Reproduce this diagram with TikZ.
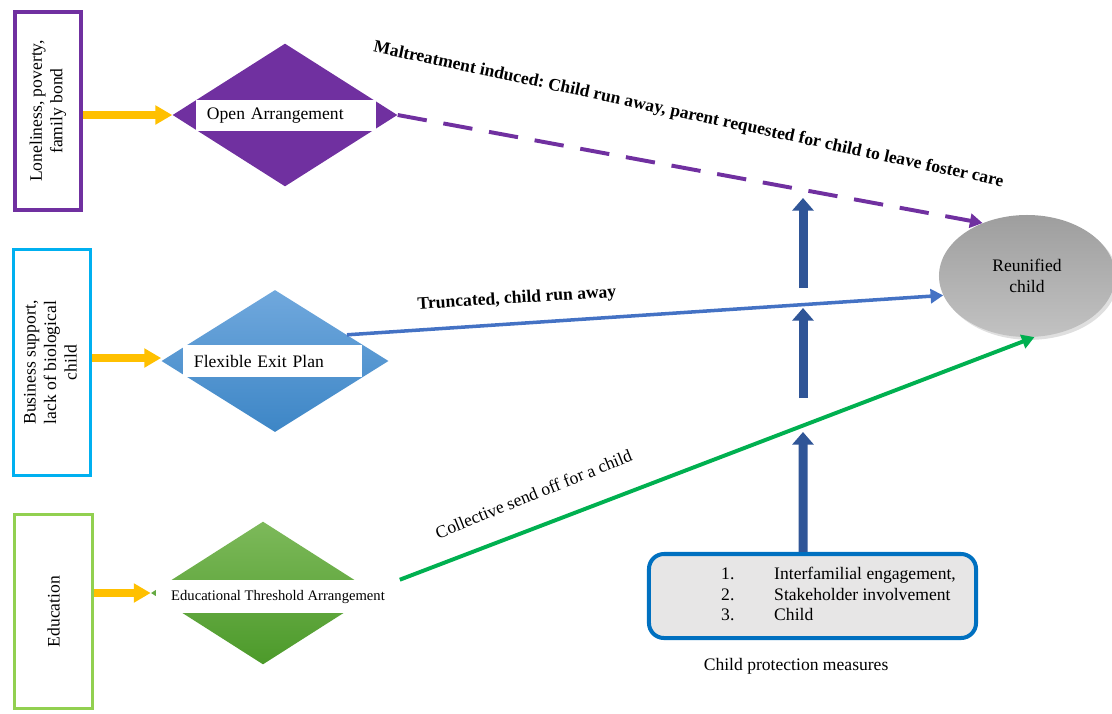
\documentclass[tikz,border=0pt]{standalone}
\usepackage{fontspec}
\setmainfont{Liberation Serif}
\usepackage{xcolor}
\definecolor{plum}{HTML}{7030A0}
\definecolor{sky}{HTML}{00B0F0}
\definecolor{leaf}{HTML}{92D050}
\definecolor{amber}{HTML}{FFC000}
\definecolor{pathblue}{HTML}{4472C4}
\definecolor{pathgreen}{HTML}{00B050}
\definecolor{navy}{HTML}{2F5597}
\definecolor{frame}{HTML}{0070C0}
\definecolor{panel}{HTML}{E7E6E6}
\definecolor{bluetop}{HTML}{70A8DD}
\definecolor{bluebot}{HTML}{3D86C6}
\definecolor{greentop}{HTML}{7DB95A}
\definecolor{greenbot}{HTML}{4C9A2A}
\definecolor{greytop}{HTML}{9E9E9E}
\definecolor{greybot}{HTML}{C2C2C2}
\usetikzlibrary{positioning,arrows.meta,shapes.geometric,shadows}
\frenchspacing

\begin{document}
\begin{tikzpicture}[
  x=0.025cm,y=-0.025cm,
  font=\fontsize{12.5}{14.6}\selectfont,
  cause/.style={draw,fill=white,inner sep=0pt,align=center},
  route/.style={diamond,inner sep=0pt,minimum width=5.62cm,minimum height=3.57cm},
  band/.style={fill=white,inner sep=0pt,inner xsep=0.275cm,align=left},
  feed/.style={-{Triangle[width=13pt,length=12pt]},line width=5pt,amber},
  exit/.style={-{Triangle[width=10pt,length=9pt]}},
  lift/.style={-{Triangle[width=15pt,length=9pt]},line width=6.4pt,navy},
  tag/.style={inner sep=1pt}
]
\useasboundingbox (0,0) rectangle (1112,713);

\node[cause,draw=plum,line width=2.85pt,minimum width=1.65cm,minimum height=4.95cm] (loneliness) at (48,111)
  {\rotatebox{90}{\begin{tabular}{c}Loneliness, poverty,\\ family bond\end{tabular}}};
\node[cause,draw=sky,line width=2.1pt,minimum width=1.925cm,minimum height=5.65cm] (business) at (52,362.5)
  {\rotatebox{90}{\begin{tabular}{c}Business support,\\ lack of biological\\ child\end{tabular}}};
\node[cause,draw=leaf,line width=2.1pt,minimum width=1.95cm,minimum height=4.85cm] (education) at (53.5,611.5)
  {\rotatebox{90}{Education}};

\node[route,fill=plum] (open) at (285,115) {};
\node[route,top color=bluetop,bottom color=bluebot,minimum width=5.675cm,minimum height=3.55cm] (flexible) at (275,361) {};
\node[route,top color=greentop,bottom color=greenbot,minimum width=5.6cm] (threshold) at (263,593) {};

\node[band,text width=3.95cm,minimum height=0.775cm] (openband) at (286,115.5) {Open Arrangement};
\node[band,text width=3.925cm,minimum height=0.8cm] (flexband) at (272.5,361) {Flexible Exit Plan};
\node[band,align=center,minimum width=6.075cm,minimum height=0.825cm,font=\fontsize{10.4}{12}\selectfont] (eduband) at (278,596.5) {Educational Threshold Arrangement};

\node[ellipse,draw=none,top color=greytop,bottom color=greybot,minimum width=4.4cm,minimum height=3.05cm,
  align=center,drop shadow={opacity=0.25,shadow xshift=2pt,shadow yshift=-2pt}] (reunified) at (1027,276) {Reunified\\ child};

\node[draw=frame,fill=panel,line width=2.85pt,rounded corners=0.375cm,minimum width=8.175cm,minimum height=2.1cm] (measures) at (812.5,596)
  {\hspace*{1.3cm}\begin{tabular}{@{}p{1.325cm}@{}l@{}}1. & Interfamilial engagement,\\ 2. & Stakeholder involvement\\ 3. & Child\end{tabular}};
\node[below=0.33cm of measures,xshift=-0.41cm] (caption) {Child protection measures};

\draw[feed] (loneliness.east |- open.west) -- (open.west);
\draw[feed] (business.east |- 0,358) -- (flexible.west |- 0,358);
\draw[feed] (education.east |- threshold.west) -- (threshold.west);

\draw[exit,plum,line width=2.8pt,dash pattern=on 21pt off 12pt] (open.east) -- (reunified.130);
\draw[exit,pathblue,line width=2.5pt] (flexible.20) -- (reunified.193);
\draw[exit,pathgreen,line width=2.8pt] (eduband.north east) -- (reunified.277);

\coordinate (tierA) at (803,432);
\coordinate (tierB) at (803,398);
\coordinate (tierC) at (803,308);
\coordinate (tierD) at (803,288);
\coordinate (tierE) at (803,198);
\draw[lift] ([xshift=-0.2375cm]measures.north) -- (tierA);
\draw[lift] (tierB) -- (tierC);
\draw[lift] (tierD) -- (tierE);

\node[tag,rotate=-12.1,font=\fontsize{12.5}{14.6}\selectfont\bfseries] (maltreat) at (688.5,115)
  {Maltreatment induced: Child run away, parent requested for child to leave foster care};
\node[tag,rotate=3.5,font=\fontsize{12.5}{14.6}\selectfont\bfseries] (truncated) at (517,299) {Truncated, child run away};
\node[tag,rotate=22] (sendoff) at (533.5,494) {Collective send off for a child};

\end{tikzpicture}
\end{document}
